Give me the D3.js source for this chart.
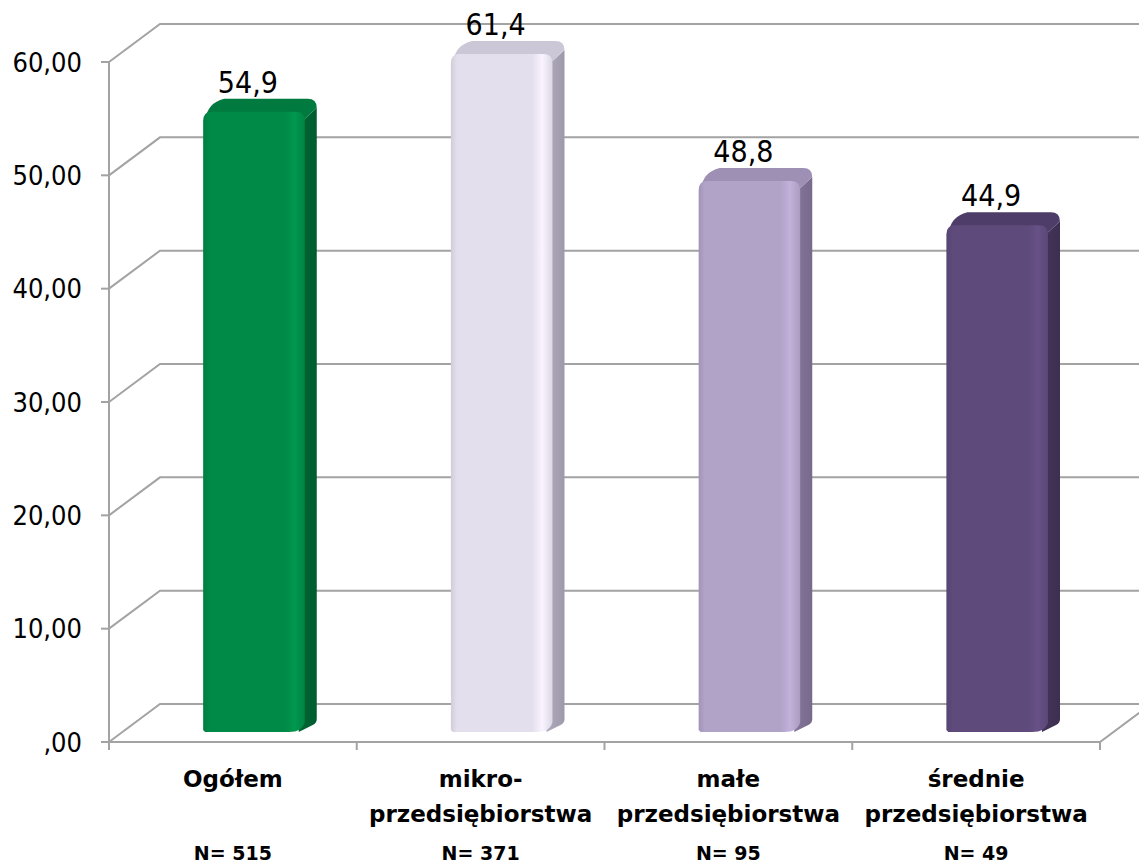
<!DOCTYPE html>
<html>
<head>
<meta charset="utf-8">
<script src="https://cdn.jsdelivr.net/npm/d3@7"></script>
<style>
  html, body { margin: 0; padding: 0; background: #fff; }
  svg { display: block; }
</style>
</head>
<body>
<svg id="chart" width="1139" height="865"></svg>
<script>
// ---- data ----
const categories = ["Ogółem", "mikro-przedsiębiorstwa", "małe przedsiębiorstwa", "średnie przedsiębiorstwa"];
const categoryLines = [["Ogółem"], ["mikro-", "przedsiębiorstwa"], ["małe", "przedsiębiorstwa"], ["średnie", "przedsiębiorstwa"]];
const nLabels = ["N= 515", "N= 371", "N= 95", "N= 49"];
const values = [54.9, 61.4, 48.8, 44.9];
const valueLabels = ["54,9", "61,4", "48,8", "44,9"];
const yTicks = [0, 10, 20, 30, 40, 50, 60];
const yTickLabels = [",00", "10,00", "20,00", "30,00", "40,00", "50,00", "60,00"];
const frontColors = ["#008A47", "#E4DFEC", "#B1A2C8", "#5E4A7B"];
const sideColors = ["#005C2E", "#9E99AA", "#776A8B", "#3D2F51"];
const topColors = ["#007A3E", "#CCC7D6", "#9E8FB4", "#4F3D69"];

(function () {
// ---- layout ----
const svg = d3.select("#chart");
const W = 1139;
const plotLeft = 109, plotRight = 1100, plotTop = 62, plotBottom = 742;
const wallDx = 51, wallDy = -38;

const y = d3.scaleLinear().domain([0, 60]).range([plotBottom, plotTop]);
const x = d3.scaleBand().domain(categories).range([plotLeft, plotRight]).padding(0);

const gridColor = "#A3A3A3";
const g = svg.append("g");

// back wall gridlines + left wall diagonals
yTicks.forEach(t => {
  const yy = y(t);
  g.append("path")
    .attr("d", `M${plotLeft},${yy} L${plotLeft + wallDx},${yy + wallDy} L${W},${yy + wallDy}`)
    .attr("fill", "none").attr("stroke", gridColor).attr("stroke-width", 2);
});
// floor front edge and right edge
g.append("path")
  .attr("d", `M${plotLeft},${plotBottom} L${plotRight},${plotBottom} L${plotRight + wallDx},${plotBottom + wallDy}`)
  .attr("fill", "none").attr("stroke", gridColor).attr("stroke-width", 2);
// vertical axis
g.append("line").attr("x1", plotLeft).attr("x2", plotLeft).attr("y1", y(60)).attr("y2", plotBottom)
  .attr("stroke", gridColor).attr("stroke-width", 2);
// y ticks
yTicks.forEach((t, i) => {
  g.append("line").attr("x1", plotLeft - 8).attr("x2", plotLeft).attr("y1", y(t)).attr("y2", y(t))
    .attr("stroke", gridColor).attr("stroke-width", 2);
  g.append("text").attr("x", 82).attr("y", y(t)).attr("dy", "0.36em")
    .attr("text-anchor", "end")
    .style("font-family", "'DejaVu Sans Condensed', 'DejaVu Sans', sans-serif")
    .style("font-size", "27px").attr("fill", "#000")
    .text(yTickLabels[i]);
});
// x ticks at category boundaries
const bounds = categories.map(c => x(c)).concat([plotRight]);
bounds.forEach(b => {
  g.append("line").attr("x1", b).attr("x2", b).attr("y1", plotBottom).attr("y2", plotBottom + 8)
    .attr("stroke", gridColor).attr("stroke-width", 2);
});

// ---- bars ----
const defs = svg.append("defs");
const bw = x.bandwidth();
const barOffX = bw * 0.38, barW = bw * 0.41;
const planeDy = -10;      // bar front plane offset from front axis plane
const dDx = 12, dDy = -13; // bar depth
const r = 9;

values.forEach((v, i) => {
  const c = categories[i];
  const x0 = x(c) + barOffX;
  const x1 = x0 + barW;
  const yt = y(Math.min(v, 60)) + planeDy + 2;
  const yb = plotBottom + planeDy;

  const gid = "grad" + i;
  const lg = defs.append("linearGradient").attr("id", gid)
    .attr("x1", "0%").attr("x2", "100%").attr("y1", "0%").attr("y2", "0%");
  const fc = d3.color(frontColors[i]);
  [[0, fc.darker(0.25)], [0.06, fc], [0.8, fc], [0.9, fc.brighter(0.25)], [1, fc.darker(0.1)]]
    .forEach(([o, col]) => lg.append("stop").attr("offset", o).attr("stop-color", col));

  const gs = "side" + i;
  const sg = defs.append("linearGradient").attr("id", gs)
    .attr("x1", "0%").attr("x2", "100%").attr("y1", "0%").attr("y2", "0%");
  sg.append("stop").attr("offset", 0).attr("stop-color", d3.color(sideColors[i]).brighter(0.3));
  sg.append("stop").attr("offset", 1).attr("stop-color", sideColors[i]);

  const bar = g.append("g");
  // side face
  bar.append("path")
    .attr("d", `M${x1 - 2},${yt + r} L${x1 + dDx},${yt + dDy + r} L${x1 + dDx},${yb + dDy} Q${x1 + dDx},${yb + dDy + 4} ${x1 + dDx - 4},${yb + dDy + 6} L${x1 - 6},${yb} Z`)
    .attr("fill", `url(#${gs})`);
  // top face
  bar.append("path")
    .attr("d", `M${x0 + 2},${yt + r} Q${x0 + 4},${yt + dDy + 4} ${x0 + dDx + r},${yt + dDy} L${x1 + dDx - r},${yt + dDy} Q${x1 + dDx},${yt + dDy} ${x1 + dDx},${yt + dDy + r} L${x1 - 2},${yt + r} Z`)
    .attr("fill", topColors[i]);
  // front face
  bar.append("path")
    .attr("d", `M${x0},${yb - 2} L${x0},${yt + r} Q${x0},${yt} ${x0 + r},${yt} L${x1 - r},${yt} Q${x1},${yt} ${x1},${yt + r} L${x1},${yb - 10} Q${x1 - 2},${yb} ${x1 - 16},${yb} L${x0 + 2},${yb} Z`)
    .attr("fill", `url(#${gid})`);

  // value label
  g.append("text")
    .attr("x", x0 + barW * 0.44)
    .attr("y", y(Math.min(v, 60)) + planeDy + dDy - 4)
    .attr("text-anchor", "middle")
    .style("font-family", "'DejaVu Sans Condensed', 'DejaVu Sans', sans-serif")
    .style("font-size", "30px").attr("fill", "#000")
    .text(valueLabels[i]);
});

// category labels
categories.forEach((c, i) => {
  const cx = x(c) + bw / 2;
  const lines = categoryLines[i];
  const baselines = lines.length === 1 ? [787] : [787, 822];
  lines.forEach((ln, j) => {
    g.append("text").attr("x", cx).attr("y", baselines[j])
      .attr("text-anchor", "middle")
      .style("font-family", "'DejaVu Sans', sans-serif")
      .style("font-weight", "bold").style("font-size", "23px").attr("fill", "#000")
      .text(ln);
  });
  g.append("text").attr("x", cx).attr("y", 860)
    .attr("text-anchor", "middle")
    .style("font-family", "'DejaVu Sans', sans-serif")
    .style("font-weight", "bold").style("font-size", "19px").attr("fill", "#000")
    .text(nLabels[i]);
});
})();
</script>
</body>
</html>
